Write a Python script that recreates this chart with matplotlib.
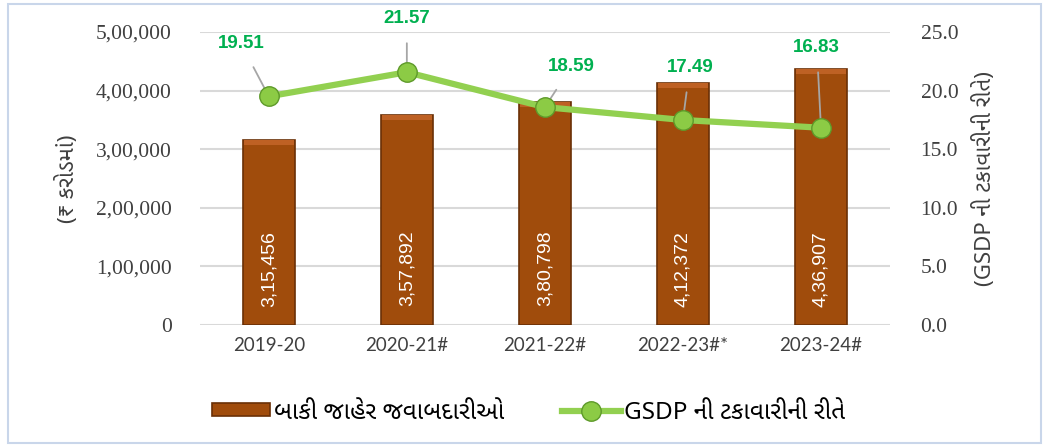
import matplotlib.pyplot as plt
from matplotlib.patches import Rectangle

years = ['2019-20', '2020-21#', '2021-22#', '2022-23#*', '2023-24#']
liabilities = [315456, 357892, 380798, 412372, 436907]
liab_labels = ['3,15,456', '3,57,892', '3,80,798', '4,12,372', '4,36,907']
gsdp_pct = [19.51, 21.57, 18.59, 17.49, 16.83]
left_ticks = ['0', '1,00,000', '2,00,000', '3,00,000', '4,00,000', '5,00,000']
right_ticks = ['0.0', '5.0', '10.0', '15.0', '20.0', '25.0']

# label offsets (points) for the green value labels
label_offsets = [(-20, 38), (0, 39), (19, 29), (5, 38), (-3, 58)]

guj = ['Noto Sans Gujarati', 'Liberation Serif', 'DejaVu Sans']

fig = plt.figure(figsize=(10.57, 4.45), dpi=100)
ax = fig.add_axes([0.189, 0.270, 0.653, 0.658])
ax2 = ax.twinx()

x = range(len(years))
bars = ax.bar(x, liabilities, width=0.38, color='#A04C0C', edgecolor='#6A3006',
              linewidth=1.2, zorder=2)
# lighter bevel strip along the top of each bar
bevel = 8000
ax.bar(x, [bevel] * len(years), bottom=[v - bevel for v in liabilities], width=0.36,
       color='#BE6124', linewidth=0, zorder=2.5)
for i, lab in enumerate(liab_labels):
    ax.text(i, 96000, lab, rotation=90, ha='center', va='center', color='white',
            fontsize=14, family='Liberation Sans', zorder=3)

ax.set_ylim(0, 500000)
ax.set_yticks(range(0, 500001, 100000))
ax.set_yticklabels(left_ticks, family='Liberation Serif', fontsize=15.5, color='#404040')
ax.set_xlim(-0.5, 4.5)
ax.set_xticks(list(x))
ax.set_xticklabels(years, family='Lato', fontsize=13.5, color='#404040')
ax.grid(axis='y', color='#D9D9D9', linewidth=1.5, zorder=0)
ax.set_axisbelow(True)
for s in ax.spines.values():
    s.set_visible(False)
for s in ax2.spines.values():
    s.set_visible(False)
ax.tick_params(axis='x', length=0, pad=9)
ax.tick_params(axis='y', length=0, pad=20)

line, = ax2.plot(x, gsdp_pct, color='#92D050', linewidth=4.5, marker='o', markersize=14,
                 markerfacecolor='#8CCB45', markeredgecolor='#5E9A2A', zorder=4)
ax2.set_ylim(0, 25)
ax2.set_yticks([0, 5, 10, 15, 20, 25])
ax2.set_yticklabels(right_ticks, family='Liberation Serif', fontsize=15.5, color='#404040')
ax2.tick_params(axis='y', length=0, pad=22)

for i, v in enumerate(gsdp_pct):
    ax2.annotate(f'{v:.2f}', xy=(i, v), xytext=label_offsets[i], textcoords='offset points',
                 ha='center', va='center', color='#00B050', fontsize=13.5, fontweight='bold',
                 family='Liberation Sans',
                 arrowprops=dict(arrowstyle='-', color='#A6A6A6', lw=1.3,
                                 shrinkA=10, shrinkB=0))

ax.set_ylabel('(₹ કરોડમાં)', family=guj, fontsize=16, color='#404040')
ax.yaxis.set_label_coords(-0.175, 0.5)
ax2.set_ylabel('(GSDP ની ટકાવારીની રીતે)', family=guj, fontsize=16, color='#404040',
               rotation=90)
ax2.yaxis.set_label_coords(1.12, 0.5)

fig.legend([bars, line], ['બાકી જાહેર જવાબદારીઓ', 'GSDP ની ટકાવારીની રીતે'],
           loc='center', bbox_to_anchor=(0.5, 0.073), ncol=2, frameon=False,
           prop={'family': guj, 'size': 17.5}, handlelength=2.4, handleheight=0.45,
           columnspacing=2.4, handletextpad=0.15)

fig.patches.append(Rectangle((0.008, 0.004), 0.977, 0.988, transform=fig.transFigure,
                             fill=False, edgecolor='#C9D6EA', linewidth=1.5))

fig.savefig('out.png', dpi=100)
